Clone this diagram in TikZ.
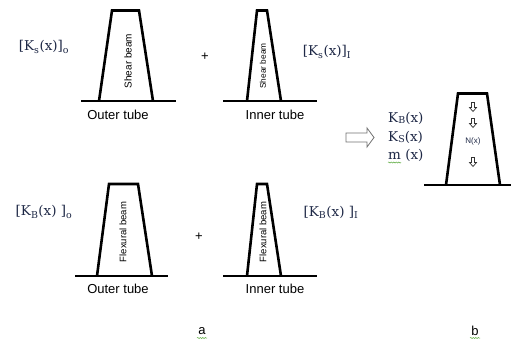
\documentclass[tikz,border=0pt]{standalone}
\usepackage{fontspec}
\setmainfont{Liberation Sans}
\newfontfamily\serifl{DejaVu Serif}
\usetikzlibrary{decorations.pathmorphing}
\definecolor{labcol}{RGB}{30,40,70}
\definecolor{spell}{RGB}{90,170,60}
\tikzset{
  tower/.style={line width=2.6pt, line join=miter},
  ground/.style={line width=2.4pt},
  captext/.style={font=\fontsize{13}{13}\selectfont, inner sep=0pt},
  beamtext/.style={rotate=90, inner sep=0pt},
  mathlab/.style={font=\serifl\fontsize{13.5}{13.5}\selectfont, text=labcol, inner sep=0pt},
  plussign/.style={font=\fontsize{13}{13}\selectfont, inner sep=0pt},
  downarr/.style={line width=0.7pt, draw=black!80},
  squiggle/.style={spell, line width=0.5pt, decorate, decoration={snake, amplitude=0.6pt, segment length=2.5pt}}
}
\newcommand{\lowsub}[1]{\textsubscript{#1}}
\begin{document}
\begin{tikzpicture}[x=1pt,y=-1pt]
\useasboundingbox[fill=white] (0,0) rectangle (511,343);

% top row: shear beams
\draw[tower] (99,101) -- (112,10.5) -- (139,10.5) -- (153,101);
\draw[ground] (81,101) -- (176,101);
\node[beamtext, font=\fontsize{10}{10}\selectfont] (sbo) at (128,61) {Shear beam};
\node[captext] (oto) at (118,115) {Outer tube};
\node[mathlab] (kso) at (44,47) {[K\lowsub{s}(x)]\lowsub{o}};
\node[plussign] (p1) at (205,57) {+};

\draw[tower] (247,101) -- (257,10.5) -- (267,10.5) -- (281,101);
\draw[ground] (223,101) -- (317,101);
\node[beamtext, font=\fontsize{8.3}{8.3}\selectfont] (sbi) at (263,66) {Shear beam};
\node[captext] (iti) at (275,115) {Inner tube};
\node[mathlab] (ksi) at (327,52) {[K\lowsub{s}(x)]\lowsub{I}};

% bottom row: flexural beams
\draw[tower] (97,276) -- (109,184) -- (138,184) -- (152,276);
\draw[ground] (75,276) -- (168,276);
\node[beamtext, font=\fontsize{9.5}{9.5}\selectfont] (fbo) at (123,232) {Flexural beam};
\node[captext] (oto2) at (118,289) {Outer tube};
\node[mathlab] (kbo) at (44,212) {[K\lowsub{B}(x) ]\lowsub{o}};
\node[plussign] (p2) at (199,237) {+};

\draw[tower] (247,276) -- (257,184) -- (267,184) -- (281,276);
\draw[ground] (223,276) -- (317,276);
\node[beamtext, font=\fontsize{9.5}{9.5}\selectfont] (fbi) at (263,232) {Flexural beam};
\node[captext] (iti2) at (275,289) {Inner tube};
\node[mathlab] (kbi) at (331,212) {[K\lowsub{B}(x) ]\lowsub{I}};

% hollow arrow
\draw[black!55, line width=0.8pt, line join=miter] (346,133) -- (367,133) -- (367,128) -- (374,137.5) -- (367,147) -- (367,142) -- (346,142) -- cycle;

% right labels
\node[mathlab, anchor=west] (kb) at (388,118) {K\raisebox{-0.15ex}{\fontsize{9.5}{9.5}\selectfont B}(x)};
\node[mathlab, anchor=west] (ks) at (388,137) {K\raisebox{-0.15ex}{\fontsize{9.5}{9.5}\selectfont S}(x)};
\node[mathlab, anchor=west] (mx) at (388,155) {m (x)};
\draw[squiggle] (388,162.5) -- (401,162.5);

% right tower
\draw[tower] (446,185) -- (458,93.5) -- (487,93.5) -- (500,185);
\draw[ground] (424,185) -- (511,185);
\foreach \yy/\nm in {107/da1,123/da2,162/da3}{
  \draw[downarr, line join=miter] (471.5,\yy-4.5) -- (474.5,\yy-4.5) -- (474.5,\yy+0.5) -- (476.5,\yy+0.5) -- (473,\yy+4.5) -- (469.5,\yy+0.5) -- (471.5,\yy+0.5) -- cycle;
}
\node[inner sep=0pt, font=\fontsize{8}{8}\selectfont, text=labcol] (nx) at (473,141) {N(x)};

% sub-figure labels
\node[captext] (la) at (202,331) {a};
\draw[squiggle] (197,338) -- (207,338);
\node[captext] (lb) at (475,331) {b};
\draw[squiggle] (470,338) -- (480,338);
\end{tikzpicture}
\end{document}
